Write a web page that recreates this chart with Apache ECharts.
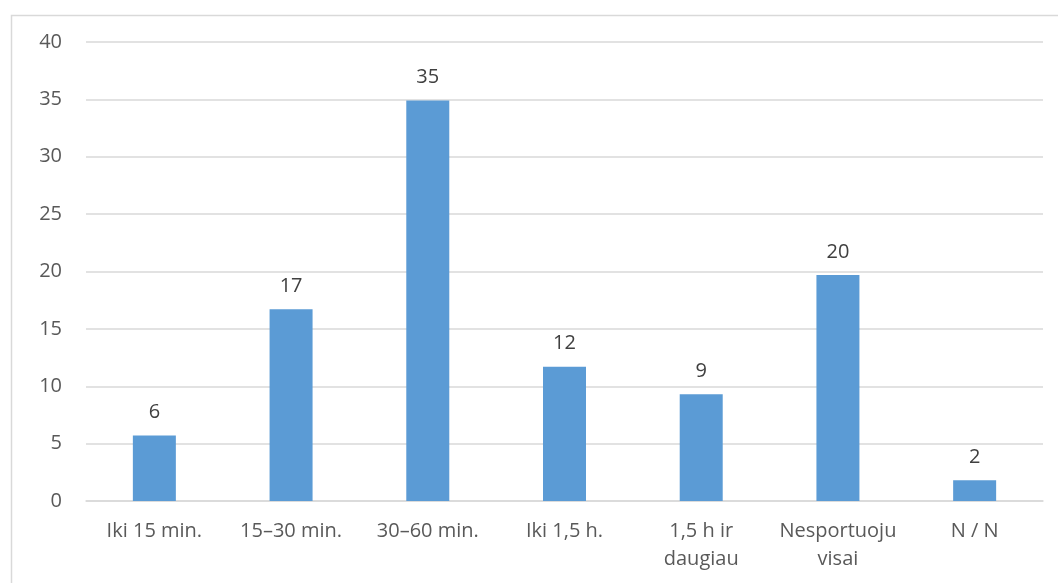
<!DOCTYPE html>
<html>
<head>
<meta charset="utf-8">
<script src="https://cdn.jsdelivr.net/npm/echarts@6/dist/echarts.min.js"></script>
<style>
html,body{margin:0;padding:0;background:#fff;}
#chart{width:1058px;height:583px;}
</style>
</head>
<body>
<div id="chart"></div>
<script>
const categories = ['Iki 15 min.', '15–30 min.', '30–60 min.', 'Iki 1,5 h.', '1,5 h ir\ndaugiau', 'Nesportuoju\nvisai', 'N / N'];
const values = [5.7, 16.7, 34.9, 11.7, 9.3, 19.7, 1.8];
const labels = ['6', '17', '35', '12', '9', '20', '2'];
const yTicks = { min: 0, max: 40, interval: 5 };

const font = '"Open Sans", "Noto Sans", sans-serif';
const chart = echarts.init(document.getElementById('chart'));
chart.setOption({
  animation: false,
  backgroundColor: '#ffffff',
  graphic: [{
    type: 'rect',
    left: 9, top: 13,
    shape: { width: 1100, height: 620 },
    style: { fill: 'none', stroke: '#D9D9D9', lineWidth: 1.5 },
    silent: true
  }],
  grid: { left: 86, right: 15, top: 42, bottom: 82, containLabel: false },
  xAxis: {
    type: 'category',
    data: categories,
    axisLine: { show: true, lineStyle: { color: '#D9D9D9', width: 1.5 } },
    axisTick: { show: false },
    axisLabel: { color: '#595959', fontFamily: font, fontSize: 20, margin: 16, lineHeight: 28, interval: 0 }
  },
  yAxis: {
    type: 'value',
    min: yTicks.min, max: yTicks.max, interval: yTicks.interval,
    axisLine: { show: false },
    axisTick: { show: false },
    splitLine: { lineStyle: { color: '#D9D9D9', width: 1.5 } },
    axisLabel: { color: '#595959', fontFamily: font, fontSize: 20, margin: 24 }
  },
  series: [{
    type: 'bar',
    data: values,
    barWidth: 43,
    itemStyle: { color: '#5B9BD5' },
    label: {
      show: true,
      position: 'top',
      distance: 13,
      color: '#404040',
      fontFamily: font,
      fontSize: 20,
      formatter: p => labels[p.dataIndex]
    }
  }]
});
</script>
</body>
</html>
